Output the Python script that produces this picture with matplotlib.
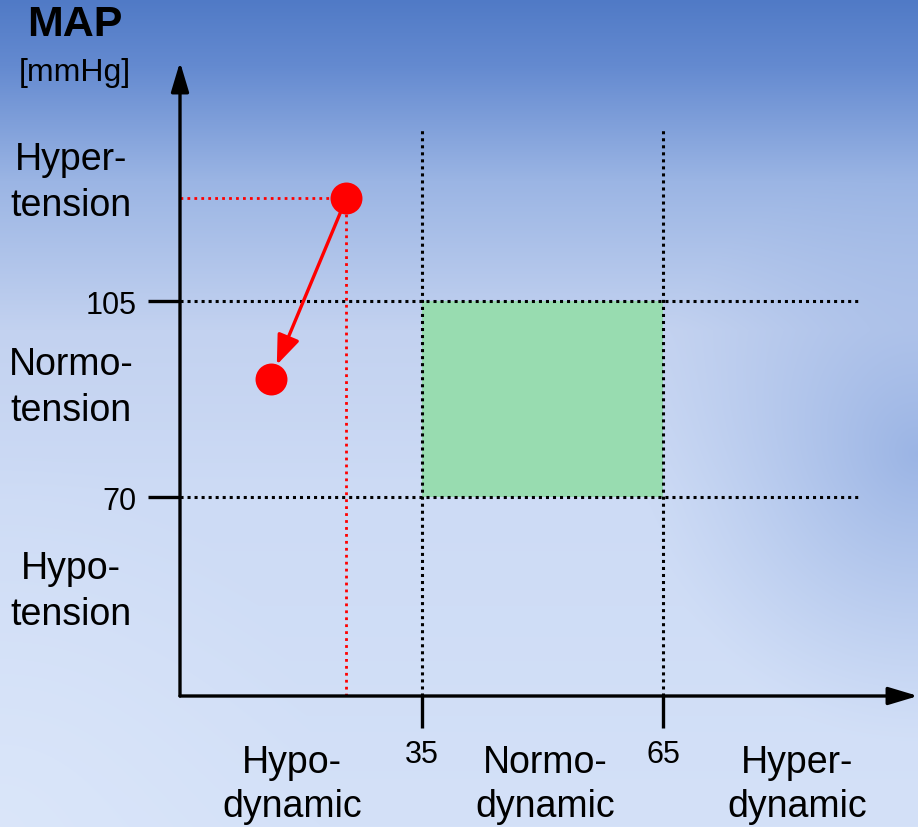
import matplotlib.pyplot as plt
import numpy as np

plt.rcParams['font.family'] = ['Liberation Sans', 'DejaVu Sans']

# normal ranges (cardiac output index / MAP)
co_bounds = [35, 65]
map_bounds = [70, 105]

# patient moves from hypertension to normotension
patient_co = [25.6, 16.2]
patient_map = [123.4, 91.1]

map_labels = ['Hyper-\ntension', 'Normo-\ntension', 'Hypo-\ntension']
map_label_pos = [126.3, 89.6, 53.2]
co_labels = ['Hypo-\ndynamic', 'Normo-\ndynamic', 'Hyper-\ndynamic']
co_label_pos = [18.8, 50.3, 81.7]

fig = plt.figure(figsize=(9.18, 8.28), dpi=100)

# background gradient
bg = fig.add_axes([0, 0, 1, 1], zorder=-10)
H, W = 828, 918
yy, xx = np.mgrid[0:1:H * 1j, 0:1:W * 1j]
stops_y = [0.0, 0.08, 0.22, 0.4, 0.6, 1.0]
stops_c = np.array([[80, 122, 198], [100, 138, 208], [155, 181, 228],
                    [195, 210, 240], [205, 219, 245], [212, 225, 248]]) / 255.0
img = np.zeros((H, W, 3))
for k in range(3):
    img[..., k] = np.interp(yy, stops_y, stops_c[:, k])
# darker patch on the right side
d = np.sqrt(((xx - 1.0) / 0.3) ** 2 + ((yy - 0.55) / 0.35) ** 2)
w = np.clip(1 - d, 0, 1) ** 1.2 * 0.7
dark = np.array([135, 165, 222]) / 255.0
img = img * (1 - w[..., None]) + dark * w[..., None]
# lighter bottom-left corner
d2 = np.sqrt(((xx - 0.0) / 0.35) ** 2 + ((yy - 1.0) / 0.45) ** 2)
w2 = np.clip(1 - d2, 0, 1) * 0.5
light = np.array([225, 235, 252]) / 255.0
img = img * (1 - w2[..., None]) + light * w2[..., None]
bg.imshow(img, aspect='auto', extent=[0, 1, 0, 1])
bg.axis('off')

ax = fig.add_axes([180 / 918, 131 / 828, 1 - 180 / 918, (697 - 63) / 828])
ax.set_facecolor('none')
ax.set_xlim(4.88, 96.74)
ax.set_ylim(34.46, 147.7)
for s in ax.spines.values():
    s.set_visible(False)

# normal zone
ax.fill_between(co_bounds, map_bounds[0], map_bounds[1], color='#98dcb0', lw=0, zorder=1)

# dotted guides
for yv in map_bounds:
    ax.plot([4.88, 89.5], [yv, yv], color='black', lw=2.2, ls=(0, (1, 1.3)), zorder=2)
for xv in co_bounds:
    ax.plot([xv, xv], [34.46, 136.1], color='black', lw=2.2, ls=(0, (1, 1.3)), zorder=2)

# red guides to the first point
ax.plot([4.88, patient_co[0]], [patient_map[0], patient_map[0]], color='red', lw=2, ls=(0, (1, 1.5)), zorder=3)
ax.plot([patient_co[0], patient_co[0]], [34.46, patient_map[0]], color='red', lw=2, ls=(0, (1, 1.5)), zorder=3)

ax.plot(patient_co, patient_map, 'o', color='red', ms=23, mec='none', zorder=5)
ax.annotate('', xy=(patient_co[1], patient_map[1]), xytext=(patient_co[0], patient_map[0]),
            arrowprops=dict(arrowstyle='-|>,head_length=0.9,head_width=0.35', color='red', lw=2.4,
                            shrinkA=10, shrinkB=11, mutation_scale=20), zorder=4)

# axes with arrows
ax.annotate('', xy=(1, 0), xytext=(0, 0), xycoords='axes fraction',
            arrowprops=dict(arrowstyle='-|>,head_length=1.0,head_width=0.3', color='black', lw=2.4,
                            shrinkA=0, shrinkB=0, mutation_scale=18), annotation_clip=False)
ax.annotate('', xy=(0, 1), xytext=(0, 0), xycoords='axes fraction',
            arrowprops=dict(arrowstyle='-|>,head_length=1.0,head_width=0.3', color='black', lw=2.4,
                            shrinkA=0, shrinkB=0, mutation_scale=18), annotation_clip=False)

ax.set_xticks(co_bounds)
ax.set_yticks(map_bounds)
ax.tick_params(axis='both', length=23, width=2.4, labelsize=22, color='black')
ax.tick_params(axis='x', pad=8)
ax.tick_params(axis='y', pad=8)

for lab, yv in zip(map_labels, map_label_pos):
    ax.text(-0.148, yv, lab, transform=ax.get_yaxis_transform(), ha='center', va='center',
            fontsize=27, linespacing=1.36)
for lab, xv in zip(co_labels, co_label_pos):
    ax.text(xv, -0.139, lab, transform=ax.get_xaxis_transform(), ha='center', va='center',
            fontsize=27, linespacing=1.3)

fig.text(75 / 918, 1 - 25 / 828, 'MAP', ha='center', va='center', fontsize=31, fontweight='bold')
fig.text(75 / 918, 1 - 73 / 828, '[mmHg]', ha='center', va='center', fontsize=23)

fig.savefig('out.png', dpi=100)
